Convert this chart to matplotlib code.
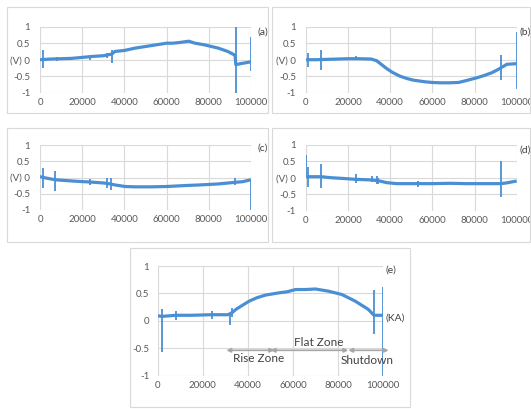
import matplotlib
matplotlib.use("Agg")
import matplotlib.pyplot as plt
from matplotlib.patches import Rectangle

plt.rcParams['font.family'] = ['Lato', 'DejaVu Sans']

# ---- data ----
x_ticks = [0, 20000, 40000, 60000, 80000, 100000]
y_ticks = [1, 0.5, 0, -0.5, -1]
y_labels_v = ['1', '0.5', '(V) 0', '-0.5', '-1']
y_labels_e = ['1', '0.5', '0', '-0.5', '-1']

# panel (a)
a_x = [0, 5000, 10000, 15000, 20000, 25000, 30000, 34000, 35500, 40000, 45000,
       50000, 55000, 60000, 63000, 66000, 70500, 73500, 78000, 84500, 89000,
       92000, 92500, 92800, 95000, 99500, 100000]
a_y = [0.0, 0.02, 0.03, 0.04, 0.07, 0.1, 0.12, 0.17, 0.25, 0.28, 0.35,
       0.4, 0.45, 0.5, 0.5, 0.52, 0.56, 0.5, 0.45, 0.35, 0.25,
       0.15, 0.1, -0.15, -0.12, -0.07, -0.05]
a_sx = [1600, 8000, 23700, 31600, 34000, 92700, 100000]
a_top = [0.28, 0.08, 0.15, 0.2, 0.28, 1.0, 0.7]
a_bot = [-0.25, -0.05, 0.0, 0.05, -0.1, -1.0, -0.35]

# panel (b)
b_x = [0, 5000, 10000, 15000, 20000, 25000, 31000, 33600, 36000, 38400, 41000,
       44700, 48000, 51000, 56600, 60000, 63700, 68000, 72400, 75000, 78000,
       81000, 84500, 88000, 90800, 92400, 95300, 100000]
b_y = [0.0, 0.0, 0.01, 0.02, 0.03, 0.03, 0.02, -0.03, -0.15, -0.27, -0.38,
       -0.5, -0.57, -0.62, -0.67, -0.69, -0.7, -0.7, -0.69, -0.65, -0.6,
       -0.55, -0.48, -0.4, -0.31, -0.25, -0.14, -0.12]
b_sx = [1300, 7300, 23900, 92400, 100000]
b_top = [0.2, 0.3, 0.1, 0.13, 0.85]
b_bot = [-0.22, -0.3, -0.02, -0.62, -0.9]

# panel (c)
c_x = [0, 1600, 7100, 13400, 18000, 23700, 28000, 31600, 35500, 40300, 45000,
       53000, 60000, 68700, 76000, 84500, 92400, 96000, 100000]
c_y = [0.03, 0.0, -0.07, -0.1, -0.12, -0.14, -0.16, -0.18, -0.23, -0.28, -0.29,
       -0.29, -0.28, -0.25, -0.23, -0.2, -0.15, -0.13, -0.07]
c_sx = [1600, 7100, 23700, 31600, 33600, 53000, 92400, 100000]
c_top = [0.31, 0.19, -0.04, -0.02, -0.01, -0.25, 0.0, -0.07]
c_bot = [-0.33, -0.41, -0.24, -0.32, -0.38, -0.33, -0.22, -1.0]

# panel (d)
d_x = [0, 1300, 7300, 12000, 17000, 23700, 28000, 31600, 35000, 38400, 43200,
       53000, 60000, 68700, 76000, 84500, 90000, 92400, 95000, 100000]
d_y = [0.03, 0.03, 0.03, 0.0, -0.02, -0.05, -0.06, -0.07, -0.1, -0.15, -0.18,
       -0.18, -0.18, -0.17, -0.18, -0.18, -0.18, -0.18, -0.16, -0.1]
d_sx = [0, 1300, 7300, 23700, 31600, 33600, 34300, 53000, 92400]
d_top = [0.7, 0.33, 0.43, 0.12, 0.05, 0.04, 0.0, -0.1, 0.5]
d_bot = [0.0, -0.27, -0.32, -0.15, -0.12, -0.18, -0.2, -0.28, -0.6]

# panel (e)
e_x = [0, 1900, 8200, 15000, 23900, 31200, 33100, 34800, 37500, 40700, 44000,
       48000, 53900, 57500, 61200, 65500, 70000, 75800, 81700, 87600, 93400,
       96000, 98000, 100000]
e_y = [0.09, 0.08, 0.1, 0.1, 0.11, 0.11, 0.15, 0.21, 0.28, 0.36, 0.42,
       0.47, 0.51, 0.53, 0.57, 0.57, 0.58, 0.54, 0.48, 0.36, 0.21,
       0.1, 0.1, 0.1]
e_sx = [1900, 8200, 23900, 31900, 33100, 96000, 100000]
e_top = [0.21, 0.17, 0.18, 0.15, 0.24, 0.57, 0.62]
e_bot = [-0.57, 0.02, 0.03, -0.08, 0.06, -0.24, -1.0]

# zones in panel (e)
zone_names = ['Rise Zone', 'Flat Zone', 'Shutdown']
zone_start = [30500, 50200, 84600]
zone_end = [51700, 84600, 102500]
zone_level = -0.54

W, H = 531, 409
fig = plt.figure(figsize=(W / 100, H / 100), dpi=100, facecolor='white')

line_col = '#4a8fd4'
grid_col = '#d9d9d9'
txt_col = '#595959'


def px_rect(l, t, r, b):
    # figure-fraction rectangle from pixel edges
    return [l / W, 1 - b / H, (r - l) / W, (b - t) / H]


def panel(rect, xs, ys, sx, top, bot, ylabels, ypad):
    ax = fig.add_axes(px_rect(*rect))
    ax.plot(xs, ys, color=line_col, lw=2.3, solid_capstyle='butt', zorder=3)
    ax.vlines(sx, bot, top, color=line_col, lw=1.3, zorder=3)
    ax.set_xlim(0, 100000)
    ax.set_ylim(-1, 1)
    ax.set_xticks(x_ticks)
    ax.set_xticklabels([str(v) for v in x_ticks])
    ax.set_yticks(y_ticks)
    ax.set_yticklabels(ylabels)
    ax.grid(True, color=grid_col, lw=0.8)
    ax.set_axisbelow(True)
    for s in ax.spines.values():
        s.set_visible(False)
    ax.tick_params(length=0, labelsize=7, colors=txt_col)
    ax.tick_params(axis='x', pad=4)
    ax.tick_params(axis='y', pad=ypad)
    return ax


# outer boxes
for box in [(7, 7, 268, 113), (272, 7, 530, 113), (7, 128, 268, 242),
            (272, 128, 530, 242), (130, 248, 410, 407)]:
    l, t, r, b = box
    fig.patches.append(Rectangle((l / W, 1 - b / H), (r - l) / W, (b - t) / H,
                                 transform=fig.transFigure, fill=False,
                                 edgecolor=grid_col, lw=0.8))

ax_a = panel((40, 26.7, 251, 92.7), a_x, a_y, a_sx, a_top, a_bot, y_labels_v, 7)
ax_b = panel((305.7, 26.7, 516.7, 92.7), b_x, b_y, b_sx, b_top, b_bot, y_labels_v, 7)
ax_c = panel((40, 145.3, 251, 209.7), c_x, c_y, c_sx, c_top, c_bot, y_labels_v, 7)
ax_d = panel((305.7, 144.7, 516.7, 210.7), d_x, d_y, d_sx, d_top, d_bot, y_labels_v, 7)
ax_e = panel((157.7, 266, 383, 375.5), e_x, e_y, e_sx, e_top, e_bot, y_labels_e, 6)

# panel letters
lab = dict(fontsize=7.5, color='#404040', va='center')
fig.text(257 / W, 1 - 32 / H, '(a)', **lab)
fig.text(520 / W, 1 - 32 / H, '(b)', **lab)
fig.text(257 / W, 1 - 148 / H, '(c)', **lab)
fig.text(520 / W, 1 - 150 / H, '(d)', **lab)
fig.text(385 / W, 1 - 270 / H, '(e)', **lab)
fig.text(385 / W, 1 - 318 / H, '(KA)', **lab)

# zone arrows and labels
for s, e in zip(zone_start, zone_end):
    ax_e.annotate('', xy=(e, zone_level), xytext=(s, zone_level),
                  arrowprops=dict(arrowstyle='<|-|>', color='#a6a6a6', lw=1.2,
                                  mutation_scale=6, shrinkA=0, shrinkB=0),
                  annotation_clip=False)
zt = dict(fontsize=8.5, color='#404040', va='center')
ax_e.text(45000, -0.69, zone_names[0], ha='center', **zt)
ax_e.text(71400, -0.39, zone_names[1], ha='center', **zt)
ax_e.text(81400, -0.72, zone_names[2], ha='left', clip_on=False, **zt)

fig.savefig('out.png', dpi=100, facecolor='white')
